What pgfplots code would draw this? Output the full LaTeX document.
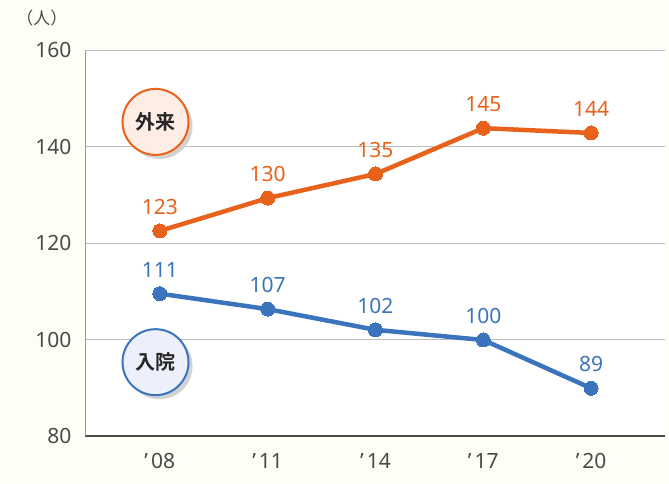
\documentclass[border=0pt]{standalone}
\usepackage{pgfplots}
\pgfplotsset{compat=1.18}
\usepackage{fontspec}
\setmainfont{Noto Sans}
\newfontfamily\jp{Noto Sans CJK JP}
\newfontfamily\jpbold{Noto Sans CJK JP Bold}
\definecolor{cream}{HTML}{FFFEF6}
\definecolor{orng}{HTML}{E8621C}
\definecolor{blu}{HTML}{3B74BD}
\definecolor{orngl}{HTML}{FDEDE4}
\definecolor{blul}{HTML}{EDF0FA}
\definecolor{txt}{HTML}{4A4A4A}
\definecolor{grid}{HTML}{BDBDBD}
\begin{document}
\begin{tikzpicture}[x=1pt,y=1pt]
\fill[cream] (-85,-48) rectangle (584,436);
\begin{axis}[
  at={(0,0)}, anchor=south west,
  scale only axis, width=580pt, height=386pt,
  xmin=-0.694, xmax=4.685, ymin=80, ymax=160,
  axis background/.style={fill=white},
  axis x line*=bottom, axis y line*=left,
  x axis line style={draw=txt, line width=1.6pt, -},
  y axis line style={draw=gray!80, line width=0.8pt, -},
  xtick={0,1,2,3,4}, xticklabels={’\hspace{3pt}08,’\hspace{3pt}11,’\hspace{3pt}14,’\hspace{3pt}17,’\hspace{3pt}20},
  ytick={80,100,120,140,160},
  ymajorgrids, grid style={draw=grid, line width=0.8pt},
  major tick length=0pt,
  tick label style={font=\fontsize{21}{24}\selectfont, text=txt},
  /pgf/number format/assume math mode=true,
  xticklabel style={yshift=-14pt},
  yticklabel style={xshift=-10pt},
  clip=false,
  point meta=explicit symbolic,
  nodes near coords,
  every node near coord/.append style={font=\fontsize{21}{24}\selectfont, anchor=south, yshift=13pt},
]
\addplot[orng, line width=4.5pt, mark=*, mark size=7pt, mark options={line width=0pt},
  every node near coord/.append style={text=orng}]
  coordinates {(0,122.5) [123] (1,129.3) [130] (2,134.3) [135] (3,143.8) [145] (4,142.8) [144]};
\addplot[blu, line width=4.5pt, mark=*, mark size=7pt, mark options={line width=0pt},
  every node near coord/.append style={text=blu}]
  coordinates {(0,109.5) [111] (1,106.3) [107] (2,102.0) [102] (3,99.9) [100] (4,89.9) [89]};
\fill[gray!35] ([xshift=4pt,yshift=-4pt]axis cs:-0.04,145.1) circle[radius=33pt];
\node[circle, draw=orng, line width=2pt, fill=orngl, minimum size=66pt, inner sep=0pt,
  font=\jpbold\fontsize{20}{22}\selectfont, text=black!85] at (axis cs:-0.04,145.1) {外来};
\fill[gray!35] ([xshift=4pt,yshift=-4pt]axis cs:-0.04,95.3) circle[radius=33pt];
\node[circle, draw=blu, line width=2pt, fill=blul, minimum size=66pt, inner sep=0pt,
  font=\jpbold\fontsize{20}{22}\selectfont, text=black!85] at (axis cs:-0.04,95.3) {入院};
\end{axis}
\node[font=\jp\fontsize{17}{20}\selectfont, text=txt] at (-43,418) {（人）};
\end{tikzpicture}
\end{document}
